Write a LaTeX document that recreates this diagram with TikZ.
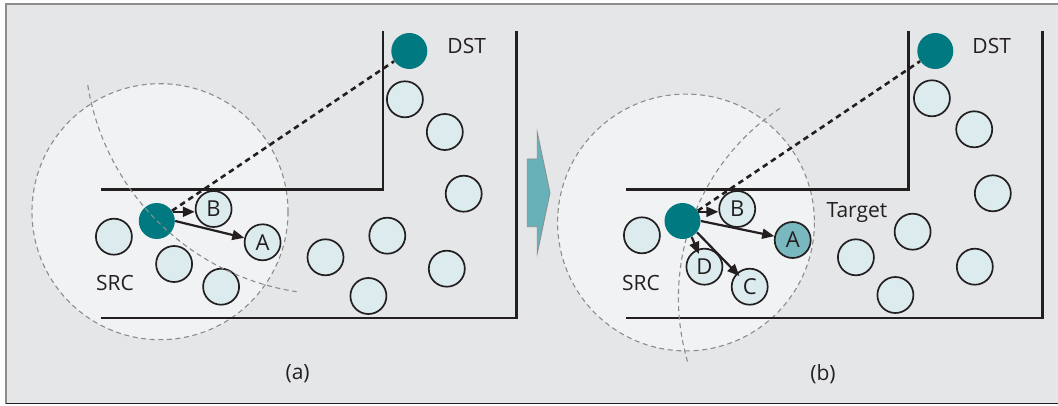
\documentclass[tikz,border=0pt]{standalone}
\usepackage{fontspec}
\setmainfont{Open Sans}
\usetikzlibrary{arrows.meta}

\definecolor{panelbg}{HTML}{E5E6E8}
\definecolor{zonefill}{HTML}{F1F2F4}
\definecolor{hostfill}{HTML}{DCEBEE}
\definecolor{relayteal}{HTML}{007A80}
\definecolor{pickteal}{HTML}{79B8BE}
\definecolor{stepfill}{HTML}{67B1B8}
\definecolor{inkdark}{HTML}{231F20}
\definecolor{framegray}{HTML}{8C8C8C}

\begin{document}
\begin{tikzpicture}[x=0.5pt,y=-0.5pt,
  every node/.style={font=\fontsize{10.5}{12}\selectfont, text=inkdark},
  host/.style={circle, draw=inkdark, line width=0.85pt, fill=hostfill,
    minimum size=18pt, inner sep=0pt, font=\fontsize{11}{12}\selectfont},
  relay/.style={circle, fill=relayteal, minimum size=18pt, inner sep=0pt},
  wall/.style={line width=1.3pt, draw=inkdark, line cap=rect},
  zoneline/.style={draw=framegray, line width=0.55pt, dash pattern=on 2.5pt off 1.8pt},
  route/.style={draw=inkdark, line width=1.3pt, dash pattern=on 2.8pt off 2.1pt},
  hop/.style={draw=inkdark, line width=1.1pt, -{Triangle[length=6pt,width=5pt]}},
]
\useasboundingbox (0,0) rectangle (1058,406);
\fill[white] (0,0) rectangle (1058,406);
\fill[panelbg] (6,4) rectangle (1060,403.5);
\draw[framegray, line width=0.6pt] (1060,4) -- (6,4) -- (6,403.5);
\draw[inkdark, line width=0.8pt] (6,403.5) -- (1060,403.5);

% radio ranges of the two senders
\draw[zoneline, fill=zonefill] (160,211.7) circle[radius=128];
\draw[zoneline, fill=zonefill] (686,222.5) circle[radius=128.4];

% corridor walls, panel (a)
\draw[wall] (383,32) -- (383,189.3) -- (102,189.3);
\draw[wall] (516.5,32) -- (516.5,318) -- (102,318);
% corridor walls, panel (b)
\draw[wall] (908.6,32) -- (908.6,189.3) -- (627.7,189.3);
\draw[wall] (1042.4,32) -- (1042.4,318) -- (627.7,318);

% progress boundary, panel (b)
\draw[zoneline] (905.9,297.8) ++(236.4:227.5) arc[start angle=236.4, end angle=163.7, radius=227.5];

% transition arrow
\draw[fill=stepfill, draw=framegray, line width=0.4pt]
  (527.3,159) -- (537.3,159) -- (537.3,132.3) -- (550,192.7) -- (537.3,253.3)
  -- (537.3,226.7) -- (527.3,226.7) -- cycle;

% ---------- panel (a) ----------
\node[relay] (srcA) at (156.8,221) {};
\node[relay] (dstA) at (409.3,51) {};
\node[host] (bA) at (213.6,209) {B};
\node[host] (aA) at (262.6,242.3) {A};
\node[host] (pa1) at (113.9,236.7) {};
\node[host] (pa2) at (174.1,264) {};
\node[host] (pa3) at (221.1,286.7) {};
\node[host] (pa4) at (325.5,257.3) {};
\node[host] (pa5) at (387.3,235.7) {};
\node[host] (pa6) at (368.4,296) {};
\node[host] (pa7) at (446.8,268.7) {};
\node[host] (pa8) at (463.7,193.7) {};
\node[host] (pa9) at (444.8,132) {};
\node[host] (pa10) at (404.9,99.3) {};

\draw[route] (srcA) -- (dstA);
\draw[hop] (srcA.30) -- (srcA.30 -| bA.west);
\draw[hop] (srcA.east) -- (aA);

% progress boundary, panel (a)
\draw[zoneline] (333.9,45.1) ++(170.75:249.4) arc[start angle=170.75, end angle=98.58, radius=249.4];

\node (dstAlabel) at (466.7,45.8) {DST};
\node (srcAlabel) at (115,283) {SRC};
\node (capA) at (297.6,374) {(a)};

% ---------- panel (b) ----------
\node[relay] (srcB) at (682.5,221) {};
\node[relay] (dstB) at (935.3,51) {};
\node[host] (bB) at (737.2,209) {B};
\node[host, fill=pickteal] (aB) at (792.7,240) {A};
\node[host] (dB) at (704.4,266.7) {D};
\node[host] (cB) at (749.7,286.7) {C};
\node[host] (pb1) at (641.9,235.3) {};
\node[host] (pb2) at (855.9,257.3) {};
\node[host] (pb3) at (912.6,231.7) {};
\node[host] (pb4) at (895.4,295) {};
\node[host] (pb5) at (974.8,266.7) {};
\node[host] (pb6) at (992.8,193.3) {};
\node[host] (pb7) at (974.2,129.3) {};
\node[host] (pb8) at (931.9,98.3) {};

\draw[route] (srcB) -- (dstB);
\draw[hop] (srcB.30) -- (srcB.30 -| bB.west);
\draw[hop] (srcB.east) -- (aB);
\draw[hop, shorten >=-2.5pt] (srcB.-60) -- (dB);
\draw[hop, shorten >=-2pt] (srcB.-38) -- (cB);

\node (dstBlabel) at (991.7,45.8) {DST};
\node (srcBlabel) at (641,283) {SRC};
\node[anchor=base] (target) at (856.9,217.3) {Target};
\node (capB) at (823,374) {(b)};
\end{tikzpicture}
\end{document}
